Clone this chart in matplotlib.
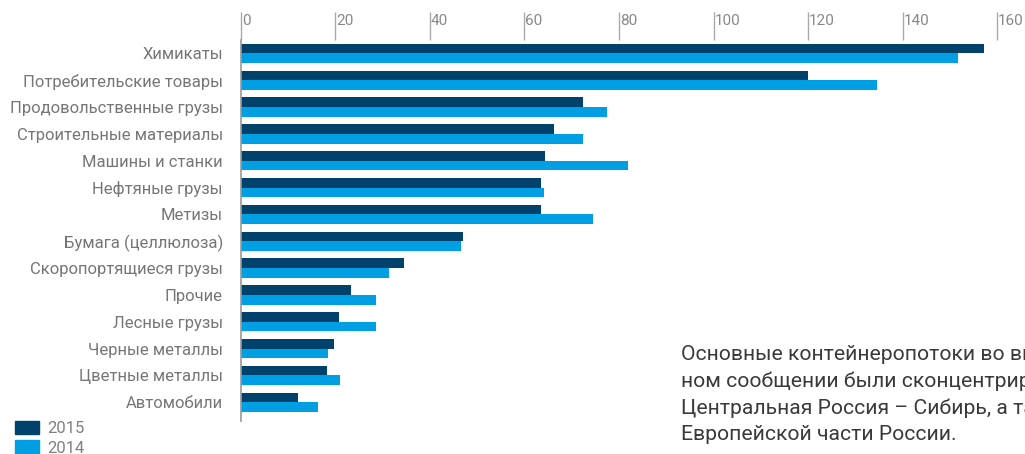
import matplotlib.pyplot as plt
import matplotlib.transforms as mtransforms
from matplotlib.patches import Patch

categories = ["Химикаты", "Потребительские товары", "Продовольственные грузы",
              "Строительные материалы", "Машины и станки", "Нефтяные грузы",
              "Метизы", "Бумага (целлюлоза)", "Скоропортящиеся грузы", "Прочие",
              "Лесные грузы", "Черные металлы", "Цветные металлы", "Автомобили"]
values_2015 = [157.2, 120, 72.3, 66.3, 64.3, 63.5, 63.5, 47, 34.4, 23.3, 20.7, 19.7, 18.2, 12.1]
values_2014 = [151.7, 134.5, 77.4, 72.3, 82, 64.2, 74.4, 46.5, 31.4, 28.5, 28.5, 18.5, 20.9, 16.2]
xticks = [0, 20, 40, 60, 80, 100, 120, 140, 160]

dark = "#00426b"
light = "#009fe3"
grey = "#888888"
label_font = ["Roboto", "DejaVu Sans"]

fig = plt.figure(figsize=(10.25, 4.54), dpi=100)
ax = fig.add_axes([0.2351, 0.073, 0.7376, 0.839])

h = 0.36
ypos = list(range(len(categories)))
ax.barh([y - h / 2 for y in ypos], values_2015, height=h, color=dark)
ax.barh([y + h / 2 for y in ypos], values_2014, height=h, color=light)

ax.set_xlim(0, 160)
ax.set_ylim(len(categories) - 1 + 0.69, -0.5)

for s in ["top", "right", "bottom"]:
    ax.spines[s].set_visible(False)
ax.spines["left"].set_color("#999999")
ax.spines["left"].set_linewidth(1.2)

ax.xaxis.tick_top()
ax.set_xticks(xticks)
ax.set_xticklabels([])
ax.tick_params(axis="x", direction="out", length=20, width=1, color="#aaaaaa")

# tick labels sit to the right of the tick lines
offset = mtransforms.ScaledTranslation(1 / 100, 0, fig.dpi_scale_trans)
trans = mtransforms.blended_transform_factory(ax.transData, ax.transAxes) + offset
for v in xticks:
    ax.text(v, 1.068, str(v), transform=trans, ha="left", va="top",
            fontsize=11, color=grey, family=label_font)

ax.set_yticks(ypos)
ax.set_yticklabels(categories, fontsize=12, color="#767676", family=label_font)
ax.tick_params(axis="y", length=0, pad=13)

handles = [Patch(color=dark, label="2015"), Patch(color=light, label="2014")]
fig.legend(handles=handles, loc="upper left", bbox_to_anchor=(0.0146, 0.073),
           frameon=False, handlelength=1.45, handleheight=0.85, labelspacing=0.25,
           handletextpad=0.5, borderaxespad=0, borderpad=0,
           prop={"family": label_font, "size": 12}, labelcolor="#808080")

note = ("Основные контейнеропотоки во внутрен-\n"
        "ном сообщении были сконцентрированы на\n"
        "Центральная Россия – Сибирь, а также\n"
        "Европейской части России.")
fig.text(681 / 1025, 1 - 345 / 454, note, ha="left", va="top", fontsize=15.2,
         color="#3a3a3a", family=["Roboto", "DejaVu Sans"],
         linespacing=1.48)

fig.savefig("out.png", dpi=100)
